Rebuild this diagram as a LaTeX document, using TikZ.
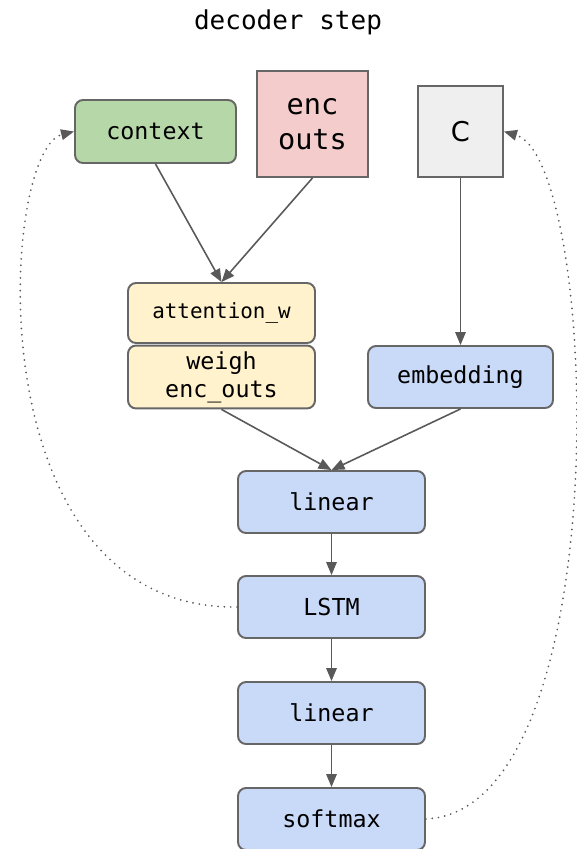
\documentclass[tikz,border=0pt]{standalone}
\usepackage{fontspec}
\setmonofont{DejaVu Sans Mono}
\setsansfont{DejaVu Sans}
\usetikzlibrary{arrows.meta}

\begin{document}
\begin{tikzpicture}[x=0.02cm, y=-0.02cm, line width=0.9pt, draw=black!65,
    box/.style={rectangle, draw=black!60, line width=1.1pt, align=center,
      font=\ttfamily\fontsize{13.3}{16}\selectfont},
    rbox/.style={box, rounded corners=0.16cm},
    flow/.style={-{Triangle[length=0.26cm, width=0.21cm]}, draw=black!65},
    loop/.style={flow, line cap=round, dash pattern=on 0pt off 3.6pt, line width=1.1pt}]
  \useasboundingbox (0,0) rectangle (576,849);

  \node[font=\ttfamily\fontsize{14.8}{18}\selectfont] (title) at (288,22) {decoder step};

  \node[rbox, minimum width=3.22cm, minimum height=1.26cm,
    fill={rgb,255:red,182;green,215;blue,168}] (context) at (155.5,131.5) {context};
  \node[box, minimum width=2.22cm, minimum height=2.12cm,
    fill={rgb,255:red,244;green,204;blue,204},
    font=\ttfamily\fontsize{16.3}{19.8}\selectfont] (encouts) at (312.5,124) {enc\\outs};
  \node[box, minimum width=1.7cm, minimum height=1.82cm,
    fill={rgb,255:red,239;green,239;blue,239},
    font=\sffamily\fontsize{15.5}{18}\selectfont] (token) at (460.5,131.5) {C};

  \node[rbox, minimum width=3.74cm, minimum height=1.2cm,
    fill={rgb,255:red,255;green,242;blue,204},
    font=\ttfamily\fontsize{11.9}{14}\selectfont] (attnw) at (221.5,313) {attention\_w};
  \node[rbox, minimum width=3.74cm, minimum height=1.24cm,
    fill={rgb,255:red,255;green,242;blue,204},
    font=\ttfamily\fontsize{13.3}{15.9}\selectfont] (weigh) at (221.5,377) {weigh\\enc\_outs};
  \node[rbox, minimum width=3.7cm, minimum height=1.24cm,
    fill={rgb,255:red,201;green,218;blue,248}] (embedding) at (460.5,377) {embedding};

  \node[rbox, minimum width=3.74cm, minimum height=1.24cm,
    fill={rgb,255:red,201;green,218;blue,248}] (linear1) at (331.5,502) {linear};
  \node[rbox, minimum width=3.74cm, minimum height=1.24cm,
    fill={rgb,255:red,201;green,218;blue,248}] (lstm) at (331.5,607) {LSTM};
  \node[rbox, minimum width=3.74cm, minimum height=1.24cm,
    fill={rgb,255:red,201;green,218;blue,248}] (linear2) at (331.5,713) {linear};
  \node[rbox, minimum width=3.74cm, minimum height=1.24cm,
    fill={rgb,255:red,201;green,218;blue,248}] (softmax) at (331.5,819) {softmax};

  \draw[flow] (context.south) -- (attnw.north);
  \draw[flow] (encouts.south) -- (attnw.north);
  \draw[flow] (token.south) -- (embedding.north);
  \draw[flow] (weigh.south) -- (linear1.north);
  \draw[flow] (embedding.south) -- (linear1.north);
  \draw[flow] (linear1) -- (lstm);
  \draw[flow] (lstm) -- (linear2);
  \draw[flow] (linear2) -- (softmax);

  % recurrent state and fed back token
  \draw[loop] (lstm.west) .. controls (-28,610) and (0,150) .. (context.west);
  \draw[loop] (softmax.east) .. controls (620,810) and (600,160) .. (token.east);
\end{tikzpicture}
\end{document}
